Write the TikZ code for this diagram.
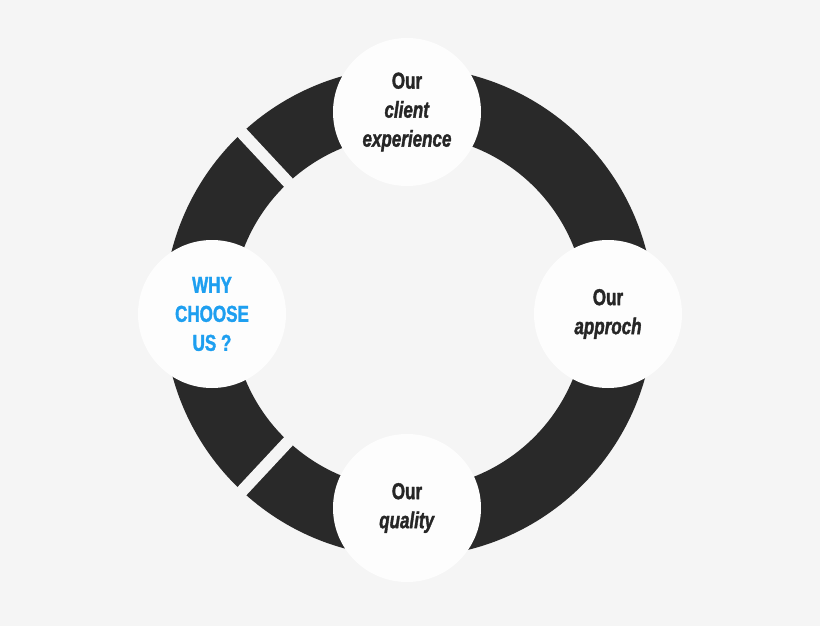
\documentclass[tikz,border=0pt]{standalone}
\usetikzlibrary{calc}
\usepackage{fontspec}
\setmainfont{Liberation Sans}[FakeStretch=0.74,FakeBold=1.5]
\begin{document}
\begin{tikzpicture}[x=1pt,y=-1pt,
  bub/.style={circle,fill=white!60!black!2,minimum size=148pt,inner sep=0pt,align=center,font=\fontsize{23}{29}\selectfont\bfseries,text=black!85},
  gapline/.style={line width=12pt,draw=black!4}]
\fill[black!4] (0,0) rectangle (820,626);
\coordinate (c) at (409,312);
\fill[black!84,even odd rule] (c) circle (245) (c) circle (177);
\draw[gapline] ($(c)+(133:170)$) -- ($(c)+(133:252)$);
\draw[gapline] ($(c)+(227:170)$) -- ($(c)+(227:252)$);
\node[bub] (t) at (407,112) {Our\\\textit{client}\\\textit{experience}};
\node[bub] (r) at (608,314) {Our\\\textit{approch}};
\node[bub] (b) at (407,508) {Our\\\textit{quality}};
\node[bub,text={rgb,255:red,30;green,159;blue,240}] (l) at (212,314) {WHY\\CHOOSE\\US ?};
\end{tikzpicture}
\end{document}
